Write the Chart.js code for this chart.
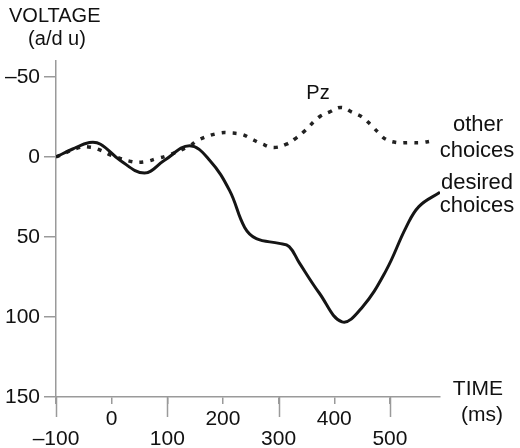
<!DOCTYPE html>
<html>
<head>
<meta charset="utf-8">
<script src="https://cdn.jsdelivr.net/npm/chart.js@4/dist/chart.umd.min.js"></script>
<style>
  body { margin: 0; background: #fff; }
</style>
</head>
<body>
<canvas id="erp" width="520" height="448"></canvas>
<script>
// time axis (ms) and voltage (a/d units, negative up)
var xTicks = [-100, 0, 100, 200, 300, 400, 500];
var yTicks = [-50, 0, 50, 100, 150];

var desiredTime = [-100, -70, -40, -20, 15, 59, 95, 140, 176, 212, 239, 260, 301, 319, 337, 373, 414, 450, 493, 529, 552, 590];
var desiredVolt = [0, -5, -9, -8, 2, 10, 2, -7, 2, 21, 44, 51, 54, 56, 66, 85, 103, 94, 71, 44, 31, 22];

var otherTime = [-100, -57, -36, -18, 0, 38, 59, 81, 101, 140, 158, 194, 215, 235, 253, 271, 292, 314, 332, 346, 373, 391, 412, 432, 450, 466, 480, 493, 513, 534, 556, 575];
var otherVolt = [0, -6, -6, -4, -1, 3, 3, 1, -1, -7, -11, -15, -15, -14, -11, -8, -6, -8, -12, -16, -25, -28, -31, -28, -25, -20, -15, -11, -9, -9, -9, -10];

function pairs(xs, ys) {
    return xs.map(function(x, i) { return {x: x, y: ys[i]}; });
}

var FONT = '"Liberation Sans", Arial, sans-serif';
var AXIS = '#9a9a9a';

// lower-row tick labels get a longer tick mark
var longTicks = {
    id: 'longTicks',
    afterDraw: function(chart) {
        var ctx = chart.ctx, xs = chart.scales.x, bottom = chart.chartArea.bottom;
        ctx.save();
        ctx.strokeStyle = AXIS;
        ctx.lineWidth = 1.5;
        xTicks.forEach(function(v, i) {
            if (i % 2 !== 0) return;
            var px = Math.round(xs.getPixelForValue(v)) + 0.5;
            ctx.beginPath();
            ctx.moveTo(px, bottom);
            ctx.lineTo(px, bottom + 20);
            ctx.stroke();
        });
        ctx.restore();
    }
};

var captions = {
    id: 'captions',
    afterDraw: function(chart) {
        var ctx = chart.ctx;
        ctx.save();
        ctx.fillStyle = '#111';
        ctx.textBaseline = 'middle';
        ctx.font = '20px ' + FONT;
        ctx.textAlign = 'left';
        ctx.fillText('VOLTAGE', 9, 16);
        ctx.textAlign = 'center';
        ctx.fillText('(a/d u)', 57, 39);
        ctx.textAlign = 'right';
        ctx.font = '21px ' + FONT;
        ctx.fillText('TIME', 503, 389);
        ctx.fillText('(ms)', 503, 415);
        ctx.textAlign = 'center';
        ctx.font = '20px ' + FONT;
        ctx.fillText('Pz', 318, 93);
        ctx.font = '22px ' + FONT;
        ctx.fillText('other', 478, 125);
        ctx.fillText('choices', 477, 151);
        ctx.fillText('desired', 477, 183);
        ctx.fillText('choices', 477, 206);
        ctx.restore();
    }
};

new Chart(document.getElementById('erp').getContext('2d'), {
    type: 'line',
    data: {
        datasets: [{
            label: 'desired choices',
            data: pairs(desiredTime, desiredVolt),
            borderColor: '#151515',
            borderWidth: 3,
            pointRadius: 0,
            tension: 0.4
        }, {
            label: 'other choices',
            data: pairs(otherTime, otherVolt),
            borderColor: '#222',
            borderWidth: 3.5,
            borderDash: [4, 7],
            pointRadius: 0,
            tension: 0.4
        }]
    },
    options: {
        responsive: false,
        devicePixelRatio: 1,
        animation: false,
        layout: { padding: { top: 61, right: 80, left: 0, bottom: 0 } },
        plugins: {
            legend: { display: false },
            tooltip: { enabled: false }
        },
        scales: {
            x: {
                type: 'linear',
                min: -100,
                max: 590,
                afterBuildTicks: function(s) { s.ticks = xTicks.map(function(v) { return {value: v}; }); },
                afterFit: function(s) { s.height = 51; },
                border: { color: AXIS, width: 1.5 },
                grid: { drawOnChartArea: false, color: AXIS, lineWidth: 1.5, tickLength: 7 },
                ticks: {
                    maxRotation: 0,
                    autoSkip: false,
                    padding: 5,
                    color: '#111',
                    font: { family: FONT, size: 21, lineHeight: 0.95 },
                    callback: function(v, i) {
                        var t = String(v).replace('-', '\u2013');
                        return i % 2 === 0 ? ['', t] : [t];
                    }
                }
            },
            y: {
                type: 'linear',
                reverse: true,
                min: -60,
                max: 150,
                afterBuildTicks: function(s) { s.ticks = yTicks.map(function(v) { return {value: v}; }); },
                afterFit: function(s) { s.width = 56; },
                border: { color: AXIS, width: 1.5 },
                grid: { drawOnChartArea: false, color: AXIS, lineWidth: 1.5, tickLength: 12 },
                ticks: {
                    padding: 4,
                    color: '#111',
                    font: { family: FONT, size: 21 },
                    callback: function(v) { return String(v).replace('-', '\u2013'); }
                }
            }
        }
    },
    plugins: [longTicks, captions]
});
</script>
</body>
</html>
